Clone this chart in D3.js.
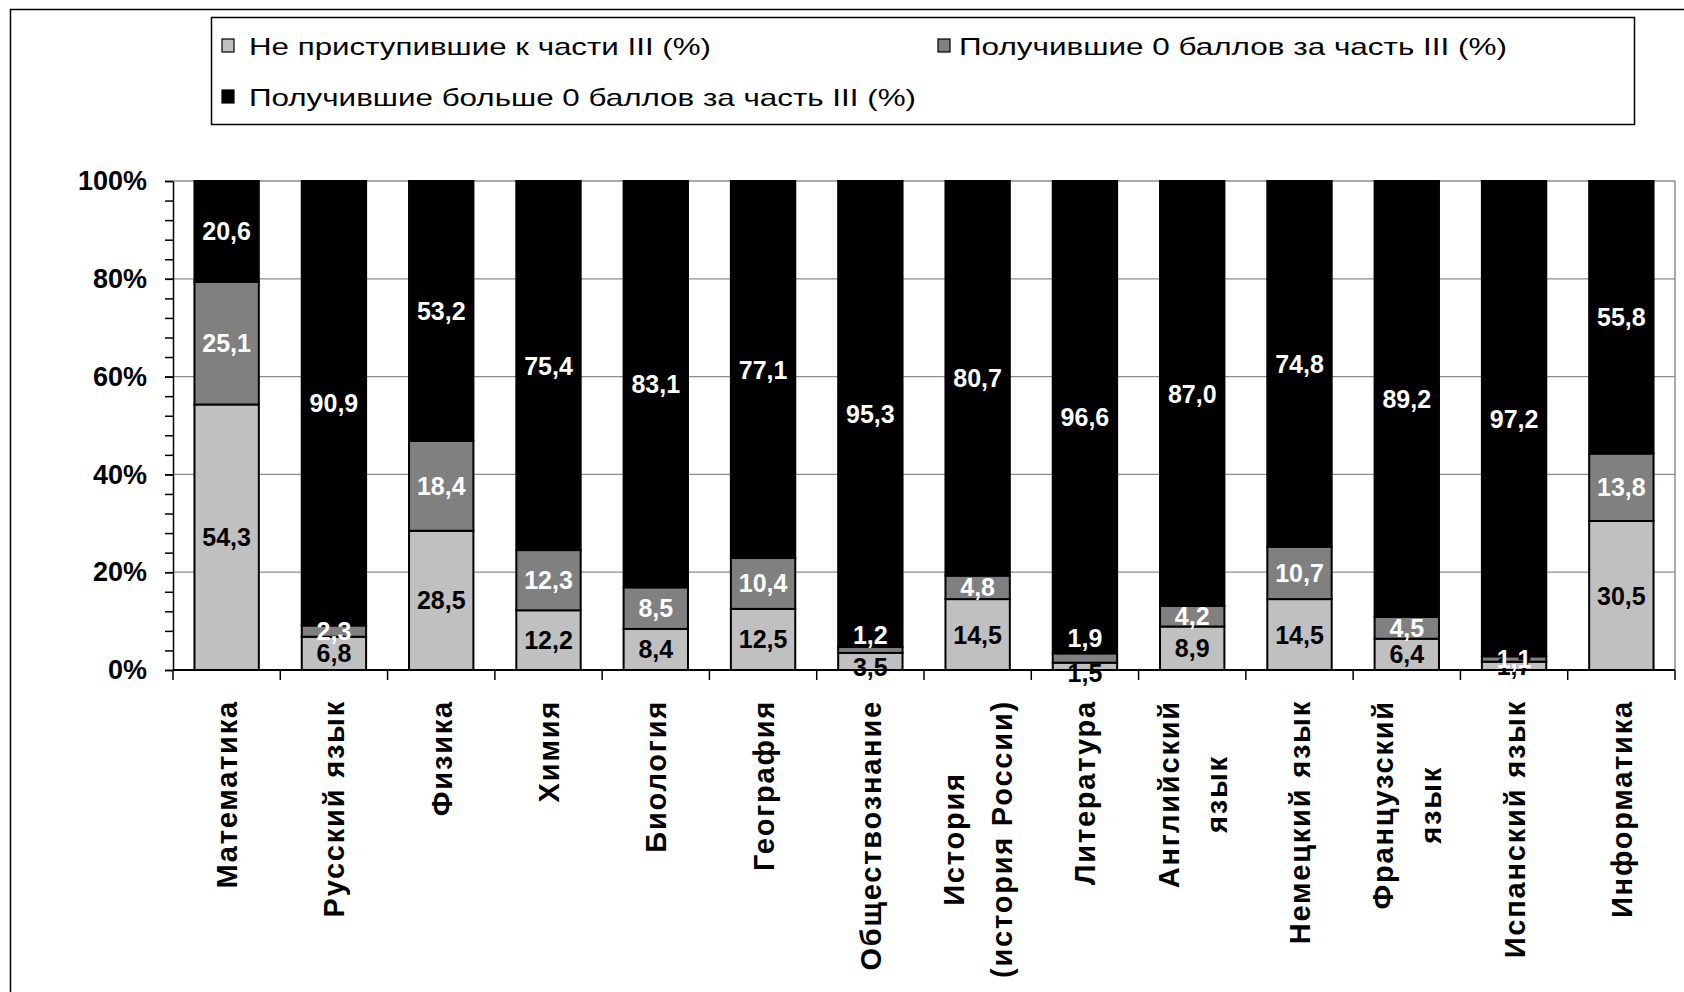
<!DOCTYPE html>
<html>
<head>
<meta charset="utf-8">
<script src="https://cdn.jsdelivr.net/npm/d3@7"></script>
<style>
  html, body { margin: 0; padding: 0; background: #fff; }
  svg { display: block; font-family: "Liberation Sans", Arial, sans-serif; }
</style>
</head>
<body>
<svg id="chart"></svg>
<script>
const width = 1684;
const height = 992;

// categories, "\n" marks a line break in the axis label
const categories = ["Математика", "Русский язык", "Физика", "Химия", "Биология", "География",
    "Обществознание", "История\n(история России)", "Литература", "Английский\nязык",
    "Немецкий язык", "Французский\nязык", "Испанский язык", "Информатика"];

const notStarted = [54.3, 6.8, 28.5, 12.2, 8.4, 12.5, 3.5, 14.5, 1.5, 8.9, 14.5, 6.4, 1.7, 30.5];
const zeroPoints = [25.1, 2.3, 18.4, 12.3, 8.5, 10.4, 1.2, 4.8, 1.9, 4.2, 10.7, 4.5, 1.1, 13.8];
const abovePoints = [20.6, 90.9, 53.2, 75.4, 83.1, 77.1, 95.3, 80.7, 96.6, 87.0, 74.8, 89.2, 97.2, 55.8];

const seriesNames = ["Не приступившие к части III (%)", "Получившие 0 баллов за часть III (%)",
    "Получившие больше 0 баллов за часть III (%)"];
const yTicks = [0, 0.2, 0.4, 0.6, 0.8, 1];

const fills = ["#c0c0c0", "#808080", "#000000"];
const labelColors = ["#000", "#fff", "#fff"];

// hand-moved labels in the original (px, per series, keyed by category)
const nudges = {
    "Обществознание": [6, -15, 0],
    "Литература": [7, -20, 0]
};

const rows = categories.map((c, i) => ({cat: c, s0: notStarted[i], s1: zeroPoints[i], s2: abovePoints[i]}));
const keys = ["s0", "s1", "s2"];
const stacked = d3.stack().keys(keys).offset(d3.stackOffsetExpand)(rows);

const margin = {left: 173, right: 1675, top: 181, bottom: 670};

const x = d3.scaleBand().domain(categories).range([margin.left, margin.right])
    .paddingInner(0.4).paddingOuter(0.2);
const y = d3.scaleLinear().domain([0, 1]).range([margin.bottom, margin.top]);

const fmt = d => d3.format(".1f")(d).replace(".", ",");

const svg = d3.select("#chart").attr("width", width).attr("height", height);
svg.append("rect").attr("width", width).attr("height", height).attr("fill", "#fff");

// outer chart frame (runs past the right and bottom edges in the original)
svg.append("rect").attr("x", 10.5).attr("y", 9.5).attr("width", width + 20).attr("height", height + 20)
    .attr("fill", "none").attr("stroke", "#000").attr("stroke-width", 1.5);

// gridlines
svg.append("g").selectAll("line").data(yTicks.slice(1)).join("line")
    .attr("x1", margin.left).attr("x2", margin.right)
    .attr("y1", d => y(d)).attr("y2", d => y(d))
    .attr("stroke", "#8c8c8c").attr("stroke-width", 1.3);
svg.append("line").attr("x1", margin.right).attr("x2", margin.right)
    .attr("y1", margin.top).attr("y2", margin.bottom)
    .attr("stroke", "#8c8c8c").attr("stroke-width", 1.5);

// bars
const layer = svg.append("g").selectAll("g").data(stacked).join("g")
    .attr("fill", (d, i) => fills[i]);
layer.selectAll("rect").data(d => d).join("rect")
    .attr("x", d => x(d.data.cat))
    .attr("width", x.bandwidth())
    .attr("y", d => y(d[1]))
    .attr("height", d => y(d[0]) - y(d[1]))
    .attr("stroke", "#000").attr("stroke-width", 2);

// y axis
const yMinor = d3.range(0, 101, 4).map(v => v / 100);
svg.append("g").attr("transform", `translate(${margin.left},0)`)
    .call(d3.axisLeft(y).tickValues(yMinor).tickSize(8).tickSizeOuter(0).tickFormat(""))
    .call(g => g.selectAll("line, path").attr("stroke", "#000").attr("stroke-width", 1.5));
svg.append("g").attr("transform", `translate(${margin.left},0)`)
    .call(d3.axisLeft(y).tickValues(yTicks).tickSize(8).tickPadding(18).tickSizeOuter(0)
        .tickFormat(d3.format(".0%")))
    .call(g => g.select(".domain").remove())
    .call(g => g.selectAll("line").attr("stroke", "#000").attr("stroke-width", 1.5))
    .call(g => g.selectAll("text").attr("font-size", 27).attr("font-weight", "bold")
        .attr("fill", "#000").attr("font-family", "'Liberation Sans', Arial, sans-serif"));

// x axis line and ticks between categories
const half = (x.step() - x.bandwidth()) / 2;
const bounds = categories.map(c => x(c) - half).concat([x(categories[categories.length - 1]) + x.bandwidth() + half]);
svg.append("line").attr("x1", margin.left).attr("x2", margin.right)
    .attr("y1", y(0)).attr("y2", y(0)).attr("stroke", "#000").attr("stroke-width", 2);
svg.append("g").selectAll("line").data(bounds).join("line")
    .attr("x1", d => d).attr("x2", d => d)
    .attr("y1", y(0)).attr("y2", y(0) + 10)
    .attr("stroke", "#000").attr("stroke-width", 1.5);

// data labels
stacked.forEach((s, si) => {
    svg.append("g").selectAll("text").data(s).join("text")
        .attr("x", d => x(d.data.cat) + x.bandwidth() / 2)
        .attr("y", d => (y(d[0]) + y(d[1])) / 2 + ((nudges[d.data.cat] || [0, 0, 0])[si]))
        .attr("dy", "0.36em")
        .attr("text-anchor", "middle")
        .attr("font-size", 25).attr("font-weight", "bold")
        .attr("fill", labelColors[si])
        .text(d => fmt(d.data[keys[si]]));
});

// category labels, rotated
const labelTop = 700;
const lineH = 48;
const catG = svg.append("g").selectAll("g").data(categories).join("g")
    .attr("transform", d => `translate(${x(d) + x.bandwidth() / 2},${labelTop}) rotate(-90)`);
catG.each(function (d) {
    const g = d3.select(this);
    const lines = d.split("\n");
    const texts = g.selectAll("text").data(lines).join("text")
        .attr("font-size", 29).attr("font-weight", "bold").attr("letter-spacing", 1.8)
        .attr("fill", "#000")
        .attr("y", (l, i) => (i - (lines.length - 1) / 2) * lineH)
        .attr("dy", "0.36em")
        .attr("text-anchor", "middle")
        .text(l => l);
    const maxLen = d3.max(texts.nodes(), n => n.getComputedTextLength());
    texts.attr("x", -maxLen / 2);
});

// legend
svg.append("rect").attr("x", 211.5).attr("y", 17.5).attr("width", 1423).attr("height", 107)
    .attr("fill", "#fff").attr("stroke", "#000").attr("stroke-width", 1.5);
const legendPos = [{mx: 222, tx: 249, tw: 462, cy: 46}, {mx: 938, tx: 959, tw: 548, cy: 46},
    {mx: 222, tx: 249, tw: 667, cy: 97}];
const leg = svg.append("g").selectAll("g").data(seriesNames).join("g");
leg.append("rect")
    .attr("x", (d, i) => legendPos[i].mx).attr("y", (d, i) => legendPos[i].cy - 7)
    .attr("width", 12).attr("height", 13)
    .attr("fill", (d, i) => fills[i]).attr("stroke", "#000").attr("stroke-width", 1.2);
leg.append("text")
    .attr("x", (d, i) => legendPos[i].tx).attr("y", (d, i) => legendPos[i].cy)
    .attr("dy", "0.36em")
    .attr("font-size", 24).attr("fill", "#000")
    .attr("textLength", (d, i) => legendPos[i].tw).attr("lengthAdjust", "spacingAndGlyphs")
    .text(d => d);
</script>
</body>
</html>
